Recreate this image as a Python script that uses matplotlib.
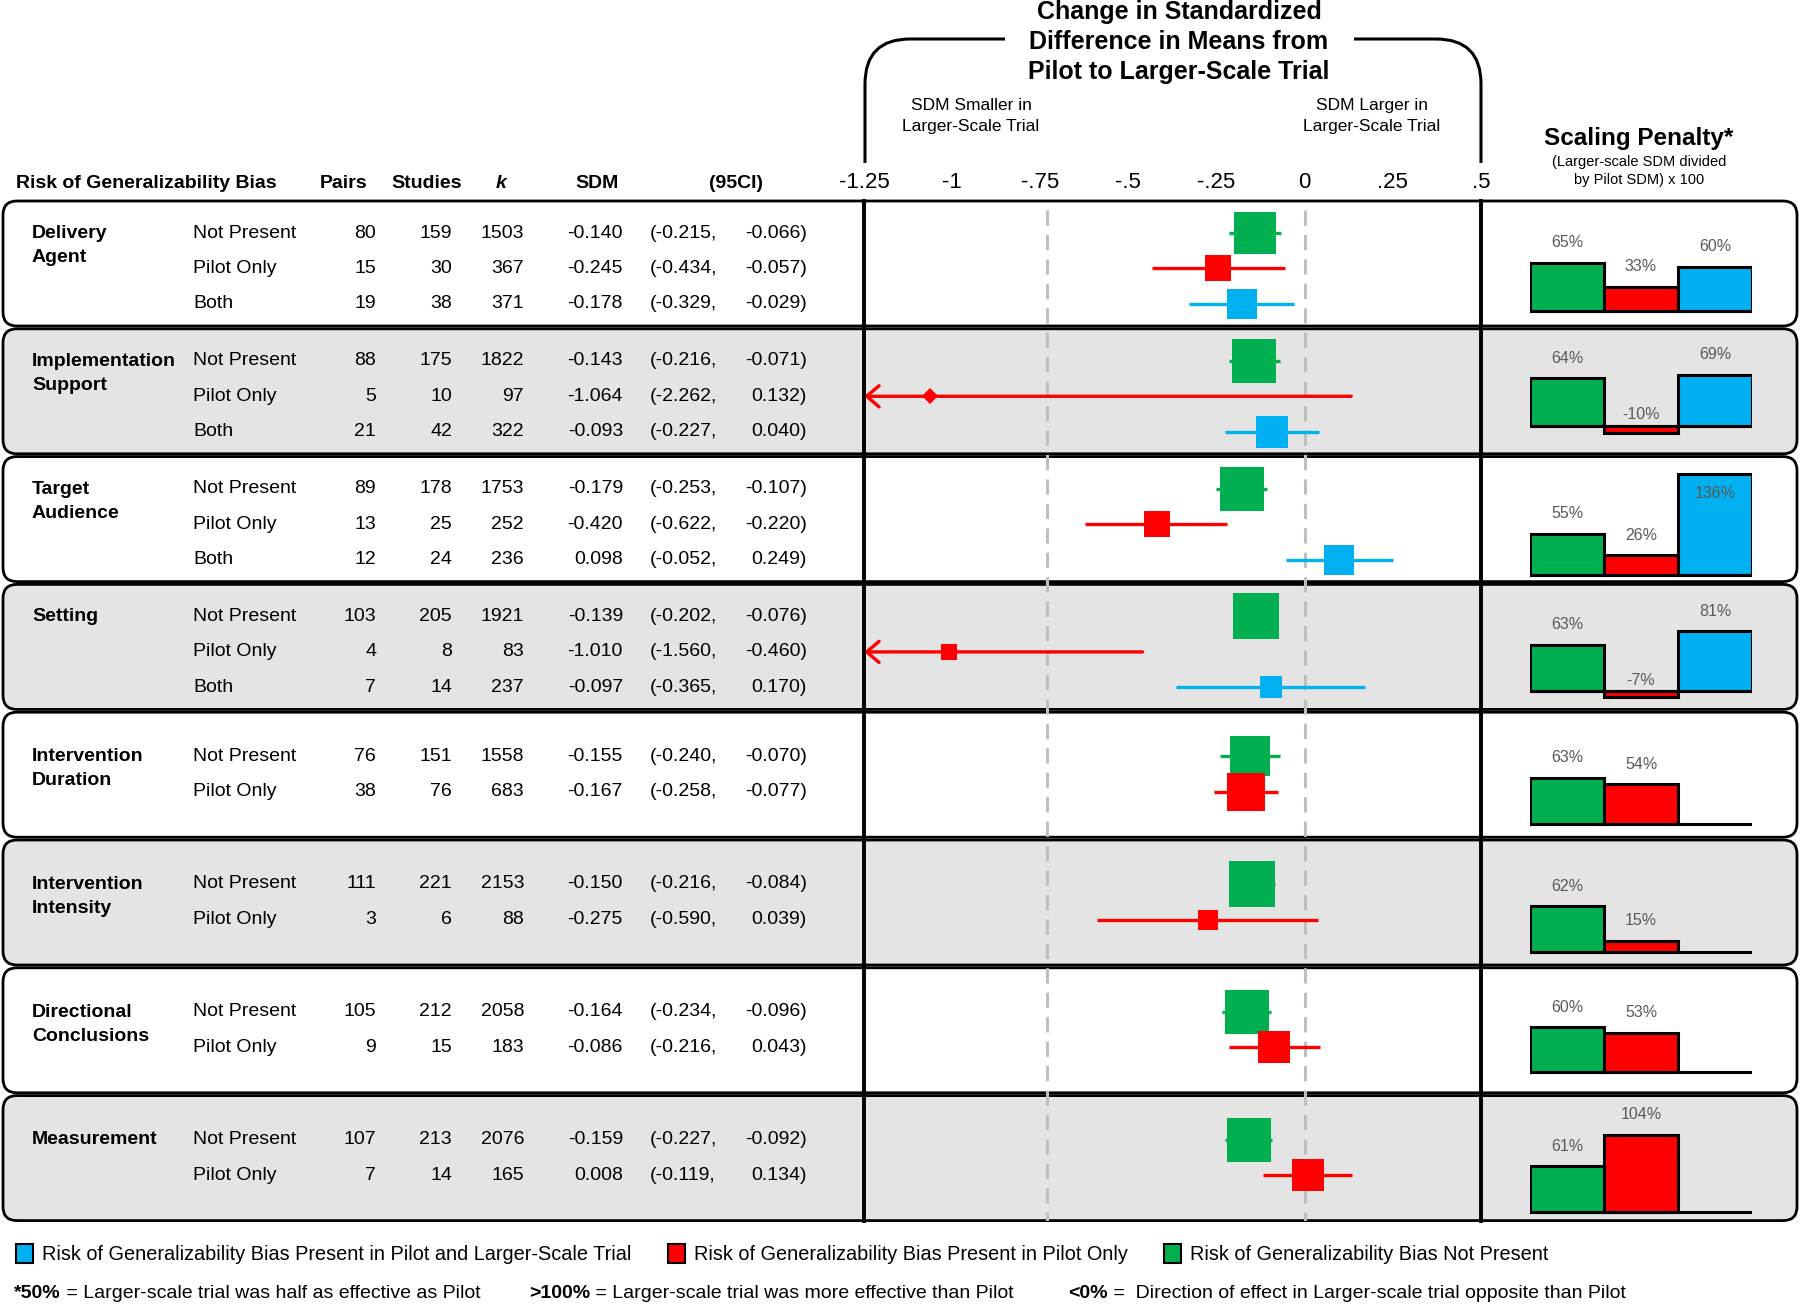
import numpy as np
import matplotlib.pyplot as plt
from matplotlib.patches import FancyBboxPatch, Patch, PathPatch
from matplotlib.path import Path

plt.rcParams['font.family'] = ['Liberation Sans', 'DejaVu Sans']

# ---- data ----
domains = ["Delivery\nAgent", "Implementation\nSupport", "Target\nAudience", "Setting",
           "Intervention\nDuration", "Intervention\nIntensity", "Directional\nConclusions", "Measurement"]
levels = [["Not Present", "Pilot Only", "Both"]] * 4 + [["Not Present", "Pilot Only"]] * 4
pairs = [[80, 15, 19], [88, 5, 21], [89, 13, 12], [103, 4, 7], [76, 38], [111, 3], [105, 9], [107, 7]]
studies = [[159, 30, 38], [175, 10, 42], [178, 25, 24], [205, 8, 14], [151, 76], [221, 6], [212, 15], [213, 14]]
k_vals = [[1503, 367, 371], [1822, 97, 322], [1753, 252, 236], [1921, 83, 237],
          [1558, 683], [2153, 88], [2058, 183], [2076, 165]]
sdm = [[-0.140, -0.245, -0.178], [-0.143, -1.064, -0.093], [-0.179, -0.420, 0.098], [-0.139, -1.010, -0.097],
       [-0.155, -0.167], [-0.150, -0.275], [-0.164, -0.086], [-0.159, 0.008]]
ci_lo = [[-0.215, -0.434, -0.329], [-0.216, -2.262, -0.227], [-0.253, -0.622, -0.052], [-0.202, -1.560, -0.365],
         [-0.240, -0.258], [-0.216, -0.590], [-0.234, -0.216], [-0.227, -0.119]]
ci_hi = [[-0.066, -0.057, -0.029], [-0.071, 0.132, 0.040], [-0.107, -0.220, 0.249], [-0.076, -0.460, 0.170],
         [-0.070, -0.077], [-0.084, 0.039], [-0.096, 0.043], [-0.092, 0.134]]
penalty = [[65, 33, 60], [64, -10, 69], [55, 26, 136], [63, -7, 81], [63, 54], [62, 15], [60, 53], [61, 104]]
tick_vals = [-1.25, -1, -0.75, -0.5, -0.25, 0, 0.25, 0.5]
tick_labels = ["-1.25", "-1", "-.75", "-.5", "-.25", "0", ".25", ".5"]
ref_lines = [-0.73, 0]

GREEN, RED, BLUE = '#00B050', '#FF0000', '#00B0F0'
level_colors = {'Not Present': GREEN, 'Pilot Only': RED, 'Both': BLUE}
diamond_rows = {(1, 1)}

# ---- layout (pixels) ----
W, H = 1800, 1304
top0, pitch, box_h = 201, 127.8, 125
bottom = top0 + 7 * pitch + box_h
fx0, fx1 = 864, 1481
bx0, bx1 = 1530, 1752
base_off = [15, 28, 7, 18, 13, 13, 21, 9]
px_per_pct = 0.74
FS = 14


def fig_rect(x0, y0, x1, y1):
    return [x0 / W, 1 - y1 / H, (x1 - x0) / W, (y1 - y0) / H]


fig = plt.figure(figsize=(18, 13.04), dpi=100)

bg = fig.add_axes([0, 0, 1, 1])
bg.set_xlim(0, W)
bg.set_ylim(H, 0)
bg.axis('off')

fst = fig.add_axes(fig_rect(fx0, top0, fx1, bottom))
fst.set_xlim(-1.25, 0.5)
fst.set_ylim(bottom, top0)
fst.patch.set_alpha(0)
for s in ['top', 'bottom']:
    fst.spines[s].set_visible(False)
for s in ['left', 'right']:
    fst.spines[s].set_linewidth(2.8)
fst.set_yticks([])
fst.xaxis.tick_top()
fst.set_xticks(tick_vals)
fst.set_xticklabels(tick_labels)
fst.tick_params(axis='x', length=0, pad=6, labelsize=16)
for xv in ref_lines:
    fst.plot([xv, xv], [210, bottom], color='#bfbfbf', lw=2.2, ls=(0, (5, 3)), zorder=1)

for g, dom in enumerate(domains):
    top = top0 + g * pitch
    bot = top + box_h
    face = '#e4e4e4' if g % 2 else 'white'
    bg.add_patch(FancyBboxPatch((3, top), W - 6, box_h, boxstyle='round,pad=0,rounding_size=14',
                                fc=face, ec='black', lw=2, zorder=0))
    n = len(levels[g])
    first = 32 if n == 3 else 44
    ys = [top + first + 35.5 * i for i in range(n)]
    bg.text(32, ys[0] + (12.5 if '\n' in dom else 0), dom, fontsize=FS, fontweight='bold',
            va='center', linespacing=1.55)

    for i, lev in enumerate(levels[g]):
        y = ys[i]
        bg.text(193, y, lev, va='center', fontsize=FS)
        bg.text(376, y, str(pairs[g][i]), ha='right', va='center', fontsize=FS)
        bg.text(452, y, str(studies[g][i]), ha='right', va='center', fontsize=FS)
        bg.text(524, y, str(k_vals[g][i]), ha='right', va='center', fontsize=FS)
        bg.text(623, y, f"{sdm[g][i]:.3f}", ha='right', va='center', fontsize=FS)
        bg.text(650, y, f"({ci_lo[g][i]:.3f},", ha='left', va='center', fontsize=FS)
        bg.text(807, y, f"{ci_hi[g][i]:.3f})", ha='right', va='center', fontsize=FS)

        # forest plot row
        c = level_colors[lev]
        lo, hi, est = ci_lo[g][i], ci_hi[g][i], sdm[g][i]
        if lo < -1.25:
            fst.annotate('', xy=(-1.25, y), xytext=(hi, y),
                         arrowprops=dict(arrowstyle='->,head_length=0.45,head_width=0.38', color=c,
                                         lw=2.4, shrinkA=0, shrinkB=0, mutation_scale=20), zorder=2)
        else:
            fst.plot([lo, hi], [y, y], color=c, lw=2.4, solid_capstyle='butt', zorder=2)
        side = 16.5 / np.sqrt(hi - lo) * 0.72
        mk = 'D' if (g, i) in diamond_rows else 's'
        fst.plot(est, y, marker=mk, ms=side, color=c, mew=0, zorder=4)

    # scaling penalty bars
    ab = fig.add_axes(fig_rect(bx0, top, bx1, bot))
    off = base_off[g]
    ymax = (box_h - off) / px_per_pct
    ab.set_ylim(-off / px_per_pct, ymax)
    ab.set_xlim(-0.5, 2.5)
    ab.axis('off')
    vals = penalty[g]
    cols = [level_colors[l] for l in levels[g]]
    ab.bar(range(len(vals)), vals, width=1, color=cols, edgecolor='black', lw=2.2)
    ab.axhline(0, color='black', lw=2.2)
    for i, v in enumerate(vals):
        if v < 0:
            ly = 15
        else:
            ly = v + 27
            if ly > ymax - 8:
                ly = v - 27
        ab.text(i, ly, f"{v}%", ha='center', va='center', fontsize=11.5, color='#595959')

# ---- headers ----
bg.text(16, 183, "Risk of Generalizability Bias", fontsize=FS, fontweight='bold', va='center')
bg.text(344, 183, "Pairs", fontsize=FS, fontweight='bold', va='center', ha='center')
bg.text(427, 183, "Studies", fontsize=FS, fontweight='bold', va='center', ha='center')
bg.text(501, 183, "k", fontsize=FS, fontweight='bold', fontstyle='italic', va='center', ha='center')
bg.text(597, 183, "SDM", fontsize=FS, fontweight='bold', va='center', ha='center')
bg.text(736, 183, "(95CI)", fontsize=FS, fontweight='bold', va='center', ha='center')

bg.text(1179, 42, "Change in Standardized\nDifference in Means from\nPilot to Larger-Scale Trial",
        fontsize=18, fontweight='bold', ha='center', va='center', linespacing=1.3)
bg.text(971, 116, "SDM Smaller in\nLarger-Scale Trial", fontsize=12.5, ha='center', va='center', linespacing=1.5)
bg.text(1372, 116, "SDM Larger in\nLarger-Scale Trial", fontsize=12.5, ha='center', va='center', linespacing=1.5)

verts = [(865, 163), (865, 84), (865, 39), (910, 39), (1005, 39),
         (1354, 39), (1436, 39), (1481, 39), (1481, 84), (1481, 163)]
codes = [Path.MOVETO, Path.LINETO, Path.CURVE3, Path.CURVE3, Path.LINETO,
         Path.MOVETO, Path.LINETO, Path.CURVE3, Path.CURVE3, Path.LINETO]
bg.add_patch(PathPatch(Path(verts, codes), fill=False, lw=2.2, ec='black'))

bg.text(1639, 138, "Scaling Penalty*", fontsize=17.5, fontweight='bold', ha='center', va='center')
bg.text(1639, 171, "(Larger-scale SDM divided\nby Pilot SDM) x 100", fontsize=10.5, ha='center',
        va='center', linespacing=1.4)

# ---- legend ----
handles = [Patch(fc=BLUE, ec='black', lw=1.5, label='Risk of Generalizability Bias Present in Pilot and Larger-Scale Trial'),
           Patch(fc=RED, ec='black', lw=1.5, label='Risk of Generalizability Bias Present in Pilot Only'),
           Patch(fc=GREEN, ec='black', lw=1.5, label='Risk of Generalizability Bias Not Present')]
fig.legend(handles=handles, loc='center left', bbox_to_anchor=(16 / W, 1 - 1254 / H), ncol=3, frameon=False,
           fontsize=14.3, handlelength=0.85, handleheight=1.1, handletextpad=0.45, columnspacing=1.85,
           borderaxespad=0, borderpad=0)

# ---- footnote ----
notes = [(14, "*50%", " = Larger-scale trial was half as effective as Pilot"),
         (529, ">100%", " = Larger-scale trial was more effective than Pilot"),
         (1068, "<0%", " =  Direction of effect in Larger-scale trial opposite than Pilot")]
for x, b, rest in notes:
    t = bg.text(x, 1293, b, fontsize=FS, fontweight='bold', va='center')
    bg.annotate(rest, xy=(1, 0.5), xycoords=t, va='center', fontsize=FS)

fig.savefig('out.png', dpi=100)
